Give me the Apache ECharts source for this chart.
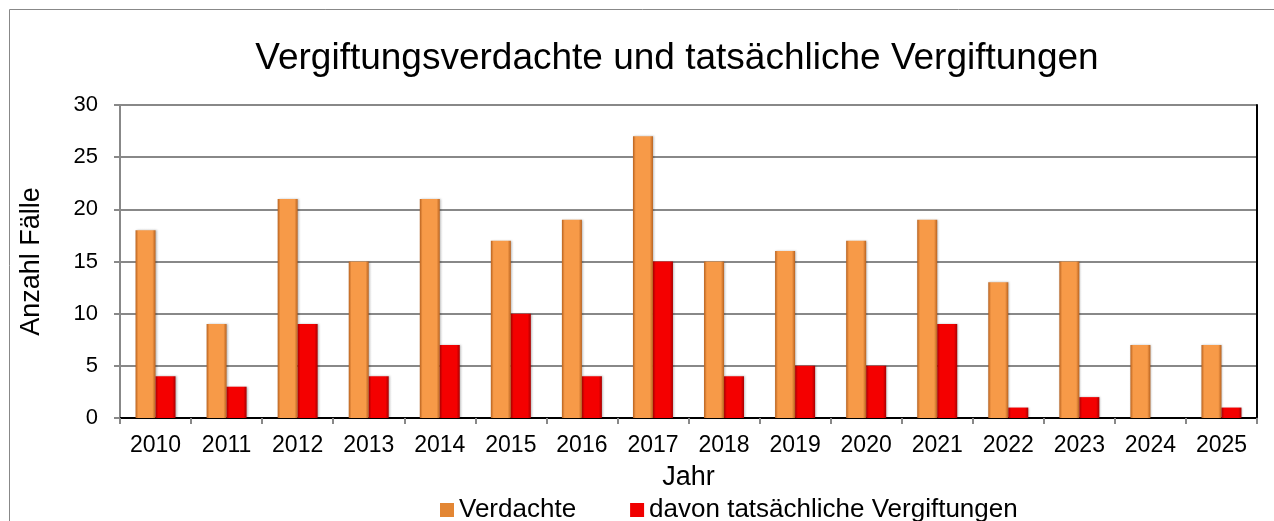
<!DOCTYPE html>
<html>
<head>
<meta charset="utf-8">
<script src="https://cdn.jsdelivr.net/npm/echarts@6/dist/echarts.min.js"></script>
<style>
  html, body { margin: 0; padding: 0; background: #fff; }
  #chart { width: 1274px; height: 521px; }
</style>
</head>
<body>
<div id="chart"></div>
<script>
const years = ['2010', '2011', '2012', '2013', '2014', '2015', '2016', '2017',
    '2018', '2019', '2020', '2021', '2022', '2023', '2024', '2025'];
const verdachte = [18, 9, 21, 15, 21, 17, 19, 27, 15, 16, 17, 19, 13, 15, 7, 7];
const vergiftungen = [4, 3, 9, 4, 7, 10, 4, 15, 4, 5, 5, 9, 1, 2, 0, 1];
const yTicks = [0, 5, 10, 15, 20, 25, 30];

const font = 'Liberation Sans, Arial, sans-serif';

// bevel-ish look: darker at the edges
const bevel = (edge, mid) => new echarts.graphic.LinearGradient(0, 0, 1, 0, [
    { offset: 0, color: edge },
    { offset: 0.14, color: mid },
    { offset: 0.84, color: mid },
    { offset: 1, color: edge },
]);

const chart = echarts.init(document.getElementById('chart'));
const option = {
    animation: false,
    backgroundColor: '#fff',
    textStyle: { fontFamily: font, color: '#000' },
    graphic: [{
        type: 'rect',
        shape: { x: 9.5, y: 9.5, width: 1290, height: 560 },
        style: { fill: null, stroke: '#888', lineWidth: 1 },
        silent: true,
        z: -1,
    }],
    title: {
        text: 'Vergiftungsverdachte und tatsächliche Vergiftungen',
        left: 672,
        textAlign: 'center',
        top: 35,
        textStyle: { fontSize: 37, fontWeight: 'normal', color: '#000', fontFamily: font },
    },
    legend: {
        left: 440,
        top: 497,
        padding: 0,
        itemWidth: 14,
        itemHeight: 14,
        itemGap: 54,
        icon: 'rect',
        textStyle: { fontSize: 26, color: '#000', fontFamily: font },
        data: [
            { name: 'Verdachte', itemStyle: { color: '#E38634' } },
            { name: 'davon tatsächliche Vergiftungen', itemStyle: { color: '#F00000' } },
        ],
    },
    grid: { left: 120, right: 17, top: 105, bottom: 103 },
    xAxis: [{
        type: 'category',
        data: years,
        name: 'Jahr',
        nameLocation: 'middle',
        nameGap: 46,
        nameTextStyle: { fontSize: 27, color: '#000' },
        axisLine: { lineStyle: { color: '#888', width: 2 } },
        axisTick: { show: true, inside: false, length: 6, lineStyle: { color: '#888', width: 2 } },
        axisLabel: { fontSize: 23, color: '#000', margin: 16 },
    }, {
        type: 'category',
        data: years,
        position: 'top',
        axisLine: { lineStyle: { color: '#000', width: 2 } },
        axisTick: { show: false },
        axisLabel: { show: false },
    }],
    yAxis: [{
        type: 'value',
        min: 0,
        max: 30,
        interval: 5,
        name: 'Anzahl Fälle',
        nameLocation: 'middle',
        nameGap: 75,
        nameTextStyle: { fontSize: 27, color: '#000' },
        axisLine: { show: true, lineStyle: { color: '#888', width: 2 } },
        axisTick: { show: true, length: 6, lineStyle: { color: '#888', width: 2 } },
        axisLabel: {
            fontSize: 22, color: '#000', margin: 22,
            formatter: (v) => (yTicks.includes(v) ? String(v) : ''),
        },
        splitLine: { lineStyle: { color: '#888', width: 2 } },
    }, {
        type: 'value',
        min: 0,
        max: 30,
        interval: 5,
        position: 'right',
        axisLine: { show: true, lineStyle: { color: '#000', width: 2 } },
        axisTick: { show: false },
        axisLabel: { show: false },
        splitLine: { show: false },
    }],
    series: [
        {
            name: 'Verdachte',
            type: 'bar',
            data: verdachte,
            barWidth: 20,
            barGap: '0%',
            itemStyle: {
                color: bevel('#B8621F', '#F79A48'),
                shadowColor: 'rgba(0,0,0,0.25)',
                shadowBlur: 2,
                shadowOffsetX: 1,
            },
        },
        {
            name: 'davon tatsächliche Vergiftungen',
            type: 'bar',
            data: vergiftungen,
            barWidth: 20,
            barGap: '0%',
            itemStyle: {
                color: bevel('#A80000', '#F40000'),
                shadowColor: 'rgba(0,0,0,0.25)',
                shadowBlur: 2,
                shadowOffsetX: 1,
            },
        },
    ],
};
chart.setOption(option);
</script>
</body>
</html>
